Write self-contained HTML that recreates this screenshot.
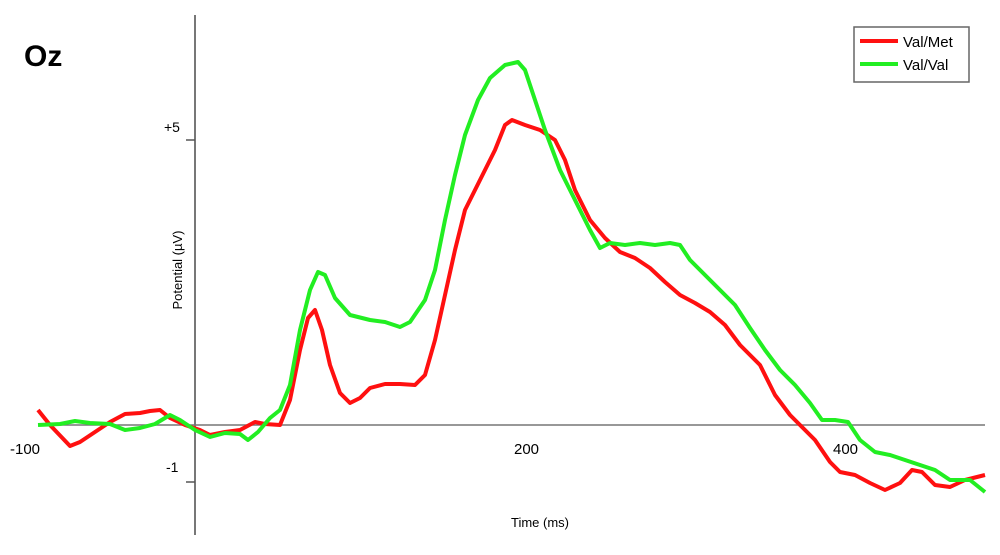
<!DOCTYPE html><html><head><style>body{margin:0;background:#fff}svg{display:block}</style></head><body>
<svg width="1000" height="555" viewBox="0 0 1000 555" font-family="Liberation Sans, sans-serif">
<text x="24" y="66" font-size="30" font-weight="bold">Oz</text>
<line x1="195" y1="15" x2="195" y2="535" stroke="#777" stroke-width="2"/>
<line x1="38" y1="425" x2="985" y2="425" stroke="#777" stroke-width="1.5"/>
<line x1="186" y1="140" x2="195" y2="140" stroke="#555" stroke-width="1.5"/>
<line x1="186" y1="482" x2="195" y2="482" stroke="#555" stroke-width="1.5"/>
<text x="164" y="132" font-size="14">+5</text>
<text x="166" y="472" font-size="14">-1</text>
<text x="10" y="454" font-size="15">-100</text>
<text x="514" y="454" font-size="15">200</text>
<text x="833" y="454" font-size="15">400</text>
<text x="540" y="527" font-size="13" text-anchor="middle">Time (ms)</text>
<text transform="translate(182,270) rotate(-90)" font-size="13" text-anchor="middle">Potential (µV)</text>
<polyline fill="none" stroke="#ff1010" stroke-width="4" stroke-linejoin="round" points="38,410 50,425 70,446 80,442 95,432 110,422 125,414 140,413 150,411 160,410 170,418 185,425 200,430 210,435 225,432 240,430 255,422 265,424 280,425 290,400 300,350 308,318 315,310 322,330 330,365 340,393 350,403 360,398 370,388 385,384 400,384 415,385 425,375 435,340 445,295 455,250 465,210 480,180 495,150 505,125 512,120 525,125 540,130 555,140 565,160 575,190 590,220 605,238 620,252 635,258 650,268 665,282 680,295 695,303 710,312 725,325 740,345 760,365 775,395 790,415 800,425 815,440 830,462 840,472 855,475 870,483 885,490 900,483 912,470 922,472 935,485 950,487 965,480 985,475"/>
<polyline fill="none" stroke="#22ee22" stroke-width="4" stroke-linejoin="round" points="38,425 60,424 75,421 90,423 110,424 125,430 140,428 155,424 170,415 180,420 195,430 210,437 225,433 240,434 248,440 258,432 270,418 280,410 290,385 300,330 310,290 318,272 325,275 335,298 350,315 370,320 385,322 400,327 410,322 425,300 435,270 445,220 455,175 465,135 478,100 490,78 505,65 518,62 525,70 535,100 545,130 560,170 575,200 590,230 600,248 610,243 625,245 640,243 655,245 670,243 680,245 690,260 705,275 720,290 735,305 750,328 765,350 780,370 795,385 810,403 822,420 835,420 848,422 860,440 875,452 890,455 905,460 920,465 935,470 950,480 970,480 985,492"/>
<rect x="854" y="27" width="115" height="55" fill="#fff" stroke="#666" stroke-width="1.5"/>
<line x1="860" y1="41" x2="898" y2="41" stroke="#ff1010" stroke-width="4"/>
<line x1="860" y1="64" x2="898" y2="64" stroke="#22ee22" stroke-width="4"/>
<text x="903" y="47" font-size="15">Val/Met</text>
<text x="903" y="70" font-size="15">Val/Val</text>
</svg></body></html>
